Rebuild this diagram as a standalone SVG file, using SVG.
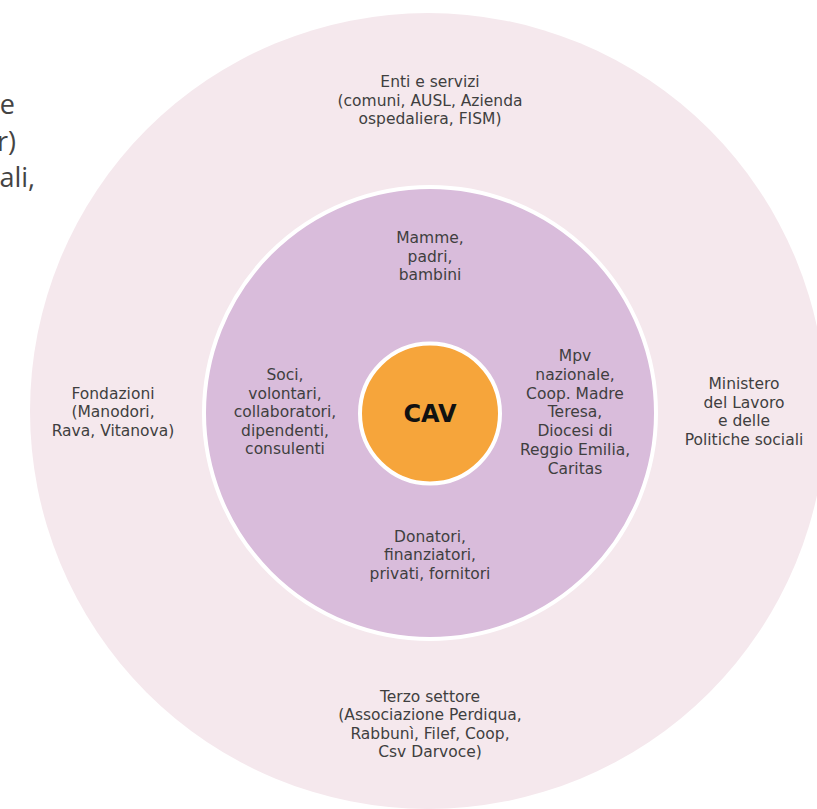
<svg xmlns="http://www.w3.org/2000/svg" width="817" height="809" viewBox="0 0 817 809">
<style>
.lbl{font-family:"DejaVu Sans","Noto Sans",sans-serif;font-size:15.5px;fill:#3f3f3f;text-anchor:middle}
.cav{font-family:"DejaVu Sans","Noto Sans",sans-serif;font-size:24px;font-weight:bold;fill:#111;text-anchor:middle}
.side{font-family:"Open Sans","Noto Sans",sans-serif;font-size:27px;fill:#444;text-anchor:end}
</style>
<rect width="817" height="809" fill="#ffffff"/>
<g id="side-text">
<text class="side" x="15" y="114">e</text>
<text class="side" x="16" y="151">r)</text>
<text class="side" x="35" y="187">ali,</text>
</g>
<g id="outer-ring">
<circle cx="428" cy="411" r="398" fill="#F5E8ED"/>
</g>
<g id="middle-ring">
<circle cx="430" cy="413" r="226" fill="#D9BCDB" stroke="#ffffff" stroke-width="4"/>
</g>
<g id="cav">
<circle cx="430" cy="413.5" r="70" fill="#F6A53B" stroke="#ffffff" stroke-width="4"/>
<text class="cav" x="430" y="422">CAV</text>
</g>
<g id="enti">
<text class="lbl" x="430" y="87">Enti e servizi</text>
<text class="lbl" x="430" y="105.6">(comuni, AUSL, Azienda</text>
<text class="lbl" x="430" y="124.2">ospedaliera, FISM)</text>
</g>
<g id="mamme">
<text class="lbl" x="430" y="243">Mamme,</text>
<text class="lbl" x="430" y="261.6">padri,</text>
<text class="lbl" x="430" y="280.2">bambini</text>
</g>
<g id="soci">
<text class="lbl" x="285" y="380">Soci,</text>
<text class="lbl" x="285" y="398.6">volontari,</text>
<text class="lbl" x="285" y="417.2">collaboratori,</text>
<text class="lbl" x="285" y="435.8">dipendenti,</text>
<text class="lbl" x="285" y="454.4">consulenti</text>
</g>
<g id="mpv">
<text class="lbl" x="575" y="361">Mpv</text>
<text class="lbl" x="575" y="379.8">nazionale,</text>
<text class="lbl" x="575" y="398.6">Coop. Madre</text>
<text class="lbl" x="575" y="417.4">Teresa,</text>
<text class="lbl" x="575" y="436.2">Diocesi di</text>
<text class="lbl" x="575" y="455">Reggio Emilia,</text>
<text class="lbl" x="575" y="473.8">Caritas</text>
</g>
<g id="donatori">
<text class="lbl" x="430" y="541.5">Donatori,</text>
<text class="lbl" x="430" y="560.1">finanziatori,</text>
<text class="lbl" x="430" y="578.7">privati, fornitori</text>
</g>
<g id="ministero">
<text class="lbl" x="744" y="389">Ministero</text>
<text class="lbl" x="744" y="407.6">del Lavoro</text>
<text class="lbl" x="744" y="426.2">e delle</text>
<text class="lbl" x="744" y="444.8">Politiche sociali</text>
</g>
<g id="fondazioni">
<text class="lbl" x="113" y="399">Fondazioni</text>
<text class="lbl" x="113" y="417.3">(Manodori,</text>
<text class="lbl" x="113" y="435.6">Rava, Vitanova)</text>
</g>
<g id="terzo">
<text class="lbl" x="430" y="701.5">Terzo settore</text>
<text class="lbl" x="430" y="720.1">(Associazione Perdiqua,</text>
<text class="lbl" x="430" y="738.7">Rabbunì, Filef, Coop,</text>
<text class="lbl" x="430" y="757.3">Csv Darvoce)</text>
</g>
</svg>
